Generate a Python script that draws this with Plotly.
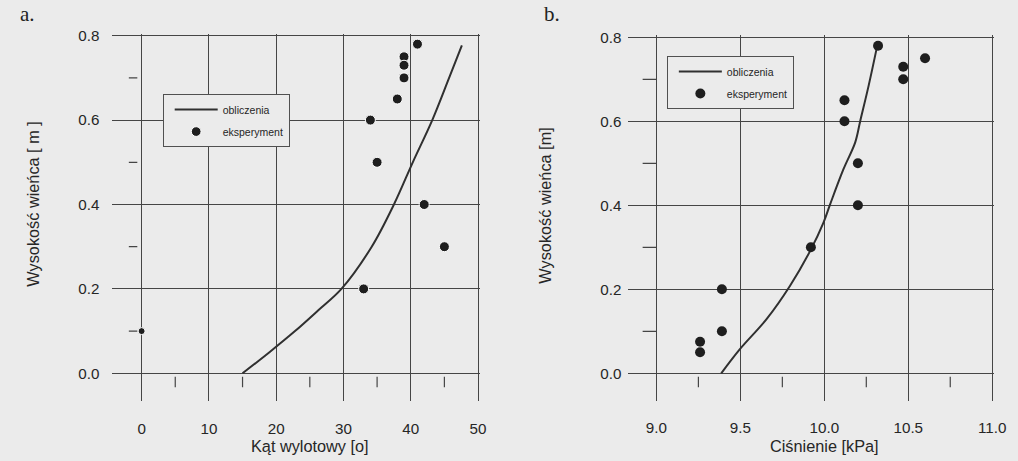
import plotly.graph_objects as go

# ---------------- data ----------------
# panel a: angle [deg] vs height [m]
calc_a_x = [15.0, 19.0, 22.8, 26.3, 29.7, 34.2, 37.5, 40.3, 43.2, 45.7, 47.6]
calc_a_y = [0.0, 0.05, 0.10, 0.15, 0.20, 0.30, 0.40, 0.50, 0.60, 0.70, 0.777]
exp_a_x = [41.0, 39.0, 39.0, 39.0, 38.0, 34.0, 35.0, 42.0, 45.0, 33.0, 0.0]
exp_a_y = [0.78, 0.75, 0.73, 0.70, 0.65, 0.60, 0.50, 0.40, 0.30, 0.20, 0.10]

# panel b: pressure [kPa] vs height [m]
calc_b_x = [9.386, 9.496, 9.656, 9.795, 9.915, 9.995, 10.035, 10.114, 10.184, 10.214, 10.264, 10.313]
calc_b_y = [0.0, 0.057, 0.129, 0.208, 0.291, 0.359, 0.403, 0.486, 0.550, 0.601, 0.685, 0.776]
exp_b_x = [10.32, 10.60, 10.47, 10.47, 10.12, 10.12, 10.20, 10.20, 9.92, 9.39, 9.39, 9.26, 9.26]
exp_b_y = [0.78, 0.75, 0.73, 0.70, 0.65, 0.60, 0.50, 0.40, 0.30, 0.20, 0.10, 0.075, 0.05]

ytick_vals = [0.0, 0.2, 0.4, 0.6, 0.8]
ytick_text = ["0.0", "0.2", "0.4", "0.6", "0.8"]
ymin_vals = [0.1, 0.3, 0.5, 0.7]
xa_ticks = [0, 10, 20, 30, 40, 50]
xa_minor = [5, 15, 25, 35, 45]
xb_ticks = [9.0, 9.5, 10.0, 10.5, 11.0]
xb_text = ["9.0", "9.5", "10.0", "10.5", "11.0"]
xb_minor = [9.25, 9.75, 10.25, 10.75]

# ---------------- style ----------------
BG = "#ebebeb"
INK = "#262626"
GRID = "#454545"
FONT = "Liberation Sans, Arial, sans-serif"
SERIF = "Liberation Serif, Times New Roman, serif"
W, H = 1018, 461
S = 0.984      # observed page scale of the rendered figure
OFFY = 8       # observed offset above the figure on the page


def px_y(p):
    return 1 - ((p - OFFY) / S) / H


def px_x(p):
    return (p / S) / W


def seg_v(xs, y0, y1):
    X, Y = [], []
    for v in xs:
        X += [v, v, None]
        Y += [y0, y1, None]
    return X, Y


def seg_h(ys, x0, x1):
    X, Y = [], []
    for v in ys:
        X += [x0, x1, None]
        Y += [v, v, None]
    return X, Y


fig = go.Figure()
LINE = dict(color="#303030", width=2, shape="spline")
MINOR = dict(color=GRID, width=1.2)

# panel a
fig.add_trace(go.Scatter(x=calc_a_x, y=calc_a_y, mode="lines", name="obliczenia",
                         line=LINE, legendgroup="a1",
                         xaxis="x", yaxis="y", legend="legend"))
fig.add_trace(go.Scatter(x=exp_a_x, y=exp_a_y, mode="markers", name="eksperyment",
                         marker=dict(color="#1e1e1e", size=[10] * 10 + [7], opacity=1),
                         legendgroup="a2", xaxis="x", yaxis="y", legend="legend"))
mx, my = seg_v(xa_minor, -0.008, -0.033)
fig.add_trace(go.Scatter(x=mx, y=my, mode="lines", line=MINOR,
                         showlegend=False, hoverinfo="skip", xaxis="x", yaxis="y"))
mx, my = seg_h(ymin_vals, -1.9, -0.64)
fig.add_trace(go.Scatter(x=mx, y=my, mode="lines", line=MINOR,
                         showlegend=False, hoverinfo="skip", xaxis="x", yaxis="y"))

# panel b
fig.add_trace(go.Scatter(x=calc_b_x, y=calc_b_y, mode="lines", name="obliczenia",
                         line=LINE, legendgroup="b1",
                         xaxis="x2", yaxis="y2", legend="legend2"))
fig.add_trace(go.Scatter(x=exp_b_x, y=exp_b_y, mode="markers", name="eksperyment",
                         marker=dict(color="#1e1e1e", size=10, opacity=1),
                         legendgroup="b2", xaxis="x2", yaxis="y2", legend="legend2"))
mx, my = seg_v(xb_minor, -0.008, -0.033)
fig.add_trace(go.Scatter(x=mx, y=my, mode="lines", line=MINOR,
                         showlegend=False, hoverinfo="skip", xaxis="x2", yaxis="y2"))
mx, my = seg_h(ymin_vals, 8.918, 8.998)
fig.add_trace(go.Scatter(x=mx, y=my, mode="lines", line=MINOR,
                         showlegend=False, hoverinfo="skip", xaxis="x2", yaxis="y2"))

tickfont = dict(family=FONT, size=15.2, color=INK)
common_x = dict(showgrid=True, gridcolor=GRID, gridwidth=1.2, zeroline=False,
                showline=False, ticks="", tickfont=tickfont)
common_y = dict(showgrid=True, gridcolor=GRID, gridwidth=1.2, zeroline=False,
                showline=False, ticks="", tickfont=tickfont,
                tickvals=ytick_vals, ticktext=ytick_text)

legend_style = dict(font=dict(family=FONT, size=10.5, color=INK), bgcolor=BG,
                    bordercolor="#505050", borderwidth=1, xanchor="left", yanchor="top",
                    traceorder="grouped", tracegroupgap=3, itemwidth=43, indentation=6,
                    entrywidth=75)

title_font = dict(family=FONT, size=16.3, color=INK)

fig.update_layout(
    width=W, height=H, autosize=False,
    margin=dict(l=0, r=0, t=0, b=0),
    paper_bgcolor=BG, plot_bgcolor=BG,
    xaxis=dict(domain=[px_x(112), px_x(478)], range=[-4.33, 50.3], anchor="y",
               tickvals=xa_ticks, ticklabelstandoff=17, **common_x),
    yaxis=dict(domain=[px_y(401.7), px_y(34.7)], range=[-0.0657, 0.8047], anchor="x",
               ticklabelstandoff=12, **common_y),
    xaxis2=dict(domain=[px_x(625.7), px_x(990)], range=[8.833, 11.012], anchor="y2",
                tickvals=xb_ticks, ticktext=xb_text, ticklabelstandoff=16, **common_x),
    yaxis2=dict(domain=[px_y(401.7), px_y(36.3)], range=[-0.066, 0.8048], anchor="x2",
                ticklabelstandoff=6, **common_y),
    legend=dict(x=px_x(162), y=px_y(95), **legend_style),
    legend2=dict(x=px_x(664), y=px_y(57), **legend_style),
    showlegend=True,
    annotations=[
        dict(text="a.", x=px_x(27), y=px_y(15), xref="paper", yref="paper",
             xanchor="center", yanchor="middle", showarrow=False,
             font=dict(family=SERIF, size=21, color="#222")),
        dict(text="b.", x=px_x(550), y=px_y(15), xref="paper", yref="paper",
             xanchor="center", yanchor="middle", showarrow=False,
             font=dict(family=SERIF, size=21, color="#222")),
        dict(text="Kąt wylotowy [o]", x=25, y=px_y(447), xref="x", yref="paper",
             xanchor="center", yanchor="middle", showarrow=False, font=title_font),
        dict(text="Ciśnienie [kPa]", x=10.0, y=px_y(447), xref="x2", yref="paper",
             xanchor="center", yanchor="middle", showarrow=False, font=title_font),
        dict(text="Wysokość wieńca [ m ]", x=px_x(32), y=0.4, xref="paper", yref="y",
             xanchor="center", yanchor="middle", textangle=-90, showarrow=False,
             font=title_font),
        dict(text="Wysokość wieńca [m]", x=px_x(543), y=0.4, xref="paper", yref="y2",
             xanchor="center", yanchor="middle", textangle=-90, showarrow=False,
             font=title_font),
    ],
)

fig.write_html("out.html")
